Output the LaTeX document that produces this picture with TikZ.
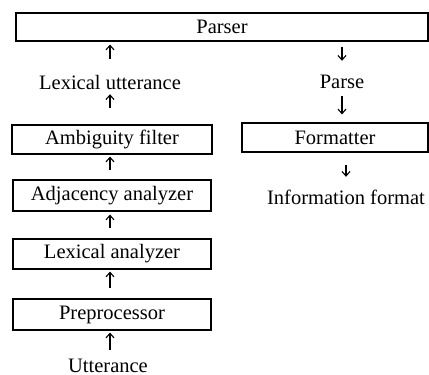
\documentclass[tikz,border=0pt]{standalone}
\usepackage{fontspec}
\setmainfont{Liberation Serif}
\usetikzlibrary{arrows.meta}
\begin{document}
\begin{tikzpicture}[x=1pt,y=-1pt,
  every node/.style={font=\fontsize{20.5}{24}\selectfont},
  box/.style={draw,line width=1.1pt,inner sep=0pt,anchor=center},
  lbl/.style={inner sep=0pt,anchor=base,text height=14pt,text depth=4pt},
  arr/.style={line width=1.1pt,-{Straight Barb[length=4.5pt,width=8pt]}}]
\useasboundingbox (0,0) rectangle (429,375);
% boxes
\node[box,minimum width=412pt,minimum height=28pt] (parser) at (222,27) {Parser};
\node[box,minimum width=200pt,minimum height=29pt] (amb) at (112,139.5) {Ambiguity filter};
\node[box,minimum width=198pt,minimum height=31pt] (adj) at (112,195.5) {Adjacency analyzer};
\node[box,minimum width=198pt,minimum height=30pt] (lex) at (112,254) {Lexical analyzer};
\node[box,minimum width=198pt,minimum height=31pt] (pre) at (112,314.5) {Preprocessor};
\node[box,minimum width=186pt,minimum height=29pt] (fmt) at (335,137.5) {Formatter};
% labels
\node[lbl] (lexut) at (110,89) {Lexical utterance};
\node[lbl] (parse) at (342,88) {Parse};
\node[lbl] (info) at (346,204) {Information format};
\node[lbl] (utt) at (108,372) {Utterance};
% left column arrows
\draw[arr,shorten <=16pt,shorten >=3pt] (lexut.north) -- (lexut.north |- parser.south);
\draw[arr,shorten <=16pt,shorten >=1pt] (amb.north -| lexut.north) -- (lexut.south);
\draw[arr,shorten <=9pt,shorten >=2pt] (adj.north -| lexut.north) -- (amb.south -| lexut.north);
\draw[arr,shorten <=10pt,shorten >=3pt] (lex.north -| lexut.north) -- (adj.south -| lexut.north);
\draw[arr,shorten <=10pt,shorten >=2pt] (pre.north -| lexut.north) -- (lex.south -| lexut.north);
\draw[arr,shorten <=8pt,shorten >=2pt] (utt.north -| lexut.north) -- (pre.south -| lexut.north);
% right column arrows
\draw[arr,shorten <=5pt,shorten >=13pt] (parser.south -| parse.north) -- (parse.north);
\draw[arr,shorten <=4pt,shorten >=8pt] (parse.south) -- (fmt.north -| parse.south);
\draw[arr,shorten <=12pt,shorten >=13pt] (fmt.south -| info.north) -- (info.north);
\end{tikzpicture}
\end{document}
